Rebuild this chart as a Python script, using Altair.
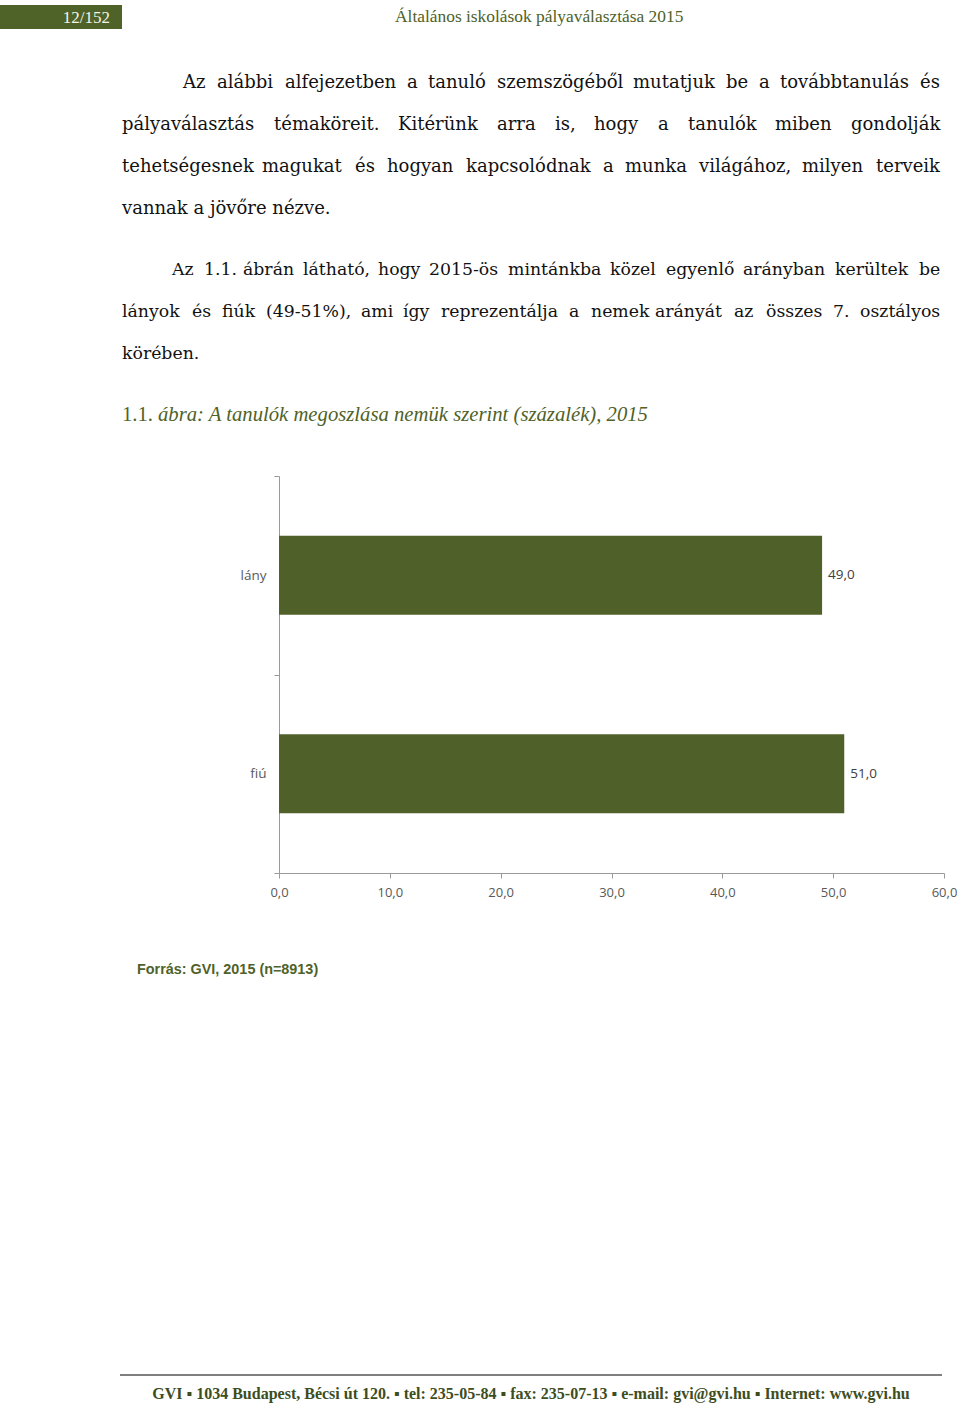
import altair as alt
import pandas as pd

W, H = 960, 1404

# ---- chart data ----
categories = ["lány", "fiú"]
values = [49.0, 51.0]
x_domain = [0, 60]
x_ticks = [0, 10, 20, 30, 40, 50, 60]

# ---- page texts ----
header_page = "12/152"
header_title = "Általános iskolások pályaválasztása 2015"
caption_num = "1.1."
caption_text = "ábra: A tanulók megoszlása nemük szerint (százalék), 2015"
source_text = "Forrás: GVI, 2015 (n=8913)"
footer_text = ("GVI \u25aa 1034 Budapest, Bécsi út 120. \u25aa tel: 235-05-84 \u25aa fax: 235-07-13 "
               "\u25aa e-mail: gvi@gvi.hu \u25aa Internet: www.gvi.hu")

line1_words = ["Az", "alábbi", "alfejezetben", "a", "tanuló", "szemszögéből", "mutatjuk", "be", "a", "továbbtanulás", "és"]
line1_x = [183, 217, 285, 407, 428, 497, 633, 726, 759, 780, 920]
line2_words = ["pályaválasztás", "témaköreit.", "Kitérünk", "arra", "is,", "hogy", "a", "tanulók", "miben", "gondolják"]
line2_x = [122, 274, 398, 497, 555, 594, 658, 688, 775, 851]
line3_words = ["tehetségesnek", "magukat", "és", "hogyan", "kapcsolódnak", "a", "munka", "világához,", "milyen", "terveik"]
line3_x = [122, 262, 355, 387, 466, 603, 625, 699, 802, 876]
line4_words = ["vannak a jövőre nézve."]
line4_x = [122]
line5_words = ["Az", "1.1.", "ábrán", "látható,", "hogy", "2015-ös", "mintánkba", "közel", "egyenlő", "arányban", "kerültek", "be"]
line5_x = [172, 204, 243, 303, 378, 429, 508, 610, 666, 743, 835, 919]
line6_words = ["lányok", "és", "fiúk", "(49-51%),", "ami", "így", "reprezentálja", "a", "nemek", "arányát", "az", "összes", "7.", "osztályos"]
line6_x = [122, 192, 222, 266, 361, 403, 441, 569, 591, 655, 734, 766, 833, 860]
line7_words = ["körében."]
line7_x = [122]

para1_lines = [
    (88, line1_words, line1_x),
    (130, line2_words, line2_x),
    (172, line3_words, line3_x),
    (214, line4_words, line4_x),
]
para2_lines = [
    (275, line5_words, line5_x),
    (317, line6_words, line6_x),
    (359, line7_words, line7_x),
]

OLIVE = "#4f6228"
BAR = "#4f6129"
AXIS_GRAY = "#9a9a9a"
LABEL_GRAY = "#595959"


def words_df(lines):
    rows = []
    for base, words, xs in lines:
        for w, x in zip(words, xs):
            rows.append({"t": w, "x": x, "y": base})
    return pd.DataFrame(rows)


def px(field):
    return alt.X(f"{field}:Q", scale=None, axis=None)


def py(field):
    return alt.Y(f"{field}:Q", scale=None, axis=None)


def text_layer(df, **mark):
    return alt.Chart(df).mark_text(**mark).encode(x=px("x"), y=py("y"), text="t:N")


# header
header_box = alt.Chart(pd.DataFrame({"x": [0], "x2": [122], "y": [5], "y2": [29]})).mark_rect(
    color=OLIVE).encode(x=px("x"), x2="x2:Q", y=py("y"), y2="y2:Q")
header_num = text_layer(pd.DataFrame({"t": [header_page], "x": [110], "y": [23]}),
                        align="right", baseline="alphabetic", font="Liberation Serif",
                        fontSize=17, color="#f4f4e8")
header_ttl = text_layer(pd.DataFrame({"t": [header_title], "x": [395], "y": [22]}),
                        align="left", baseline="alphabetic", font="Liberation Serif",
                        fontSize=17.4, color=OLIVE)

body1 = text_layer(words_df(para1_lines), align="left", baseline="alphabetic",
                   font="DejaVu Serif", fontSize=18, color="#111111")
body2 = text_layer(words_df(para2_lines), align="left", baseline="alphabetic",
                   font="DejaVu Serif", fontSize=17.3, color="#111111")

cap_num = text_layer(pd.DataFrame({"t": [caption_num], "x": [122], "y": [421]}),
                     align="left", baseline="alphabetic", font="Liberation Serif",
                     fontSize=20.7, color=OLIVE)
cap_txt = text_layer(pd.DataFrame({"t": [caption_text], "x": [158], "y": [421]}),
                     align="left", baseline="alphabetic", font="Liberation Serif",
                     fontSize=20.7, fontStyle="italic", color=OLIVE)

# chart
bar_df = pd.DataFrame({"cat": categories, "val": values})
x_scale = alt.Scale(domain=x_domain, range=[279, 944], nice=False, zero=True)
y_scale = alt.Scale(domain=categories, range=[476, 873], paddingInner=0, paddingOuter=0)

bars = alt.Chart(bar_df).mark_bar(color=BAR, size=79).encode(
    x=alt.X("val:Q", scale=x_scale, axis=alt.Axis(
        values=x_ticks, labelExpr="replace(format(datum.value, '.1f'), '.', ',')",
        offset=-531, grid=False, domainColor=AXIS_GRAY, tickColor=AXIS_GRAY, tickSize=5,
        labelFont="Open Sans", labelFontSize=13, labelColor=LABEL_GRAY, labelPadding=8,
        labelFlush=False, labelOverlap=False, title=None)),
    y=alt.Y("cat:N", sort=categories, scale=y_scale, axis=alt.Axis(
        offset=-279, tickBand="extent", grid=False, domainColor=AXIS_GRAY, tickColor=AXIS_GRAY,
        tickSize=5, labelFont="Open Sans", labelFontSize=13.5, labelColor=LABEL_GRAY,
        labelPadding=8, title=None)),
)

bar_labels = alt.Chart(bar_df).transform_calculate(
    lab="replace(format(datum.val, '.1f'), '.', ',')"
).mark_text(align="left", baseline="middle", dx=6, font="Open Sans", fontSize=13.5,
            color="#404040").encode(
    x=alt.X("val:Q", scale=x_scale, axis=None),
    y=alt.Y("cat:N", sort=categories, scale=y_scale, axis=None),
    text="lab:N",
)

source = text_layer(pd.DataFrame({"t": [source_text], "x": [137], "y": [974]}),
                    align="left", baseline="alphabetic", font="Liberation Sans",
                    fontSize=14.4, fontWeight="bold", color=OLIVE)

footer_line = alt.Chart(pd.DataFrame({"x": [120], "x2": [942], "y": [1375]})).mark_rule(
    color="#000000", strokeWidth=1).encode(x=px("x"), x2="x2:Q", y=py("y"))
footer = text_layer(pd.DataFrame({"t": [footer_text], "x": [531], "y": [1399]}),
                    align="center", baseline="alphabetic", font="Liberation Serif",
                    fontSize=16, fontWeight="bold", color="#3d4d1d")

chart = alt.layer(
    header_box, header_num, header_ttl, body1, body2, cap_num, cap_txt,
    bars, bar_labels, source, footer_line, footer
).resolve_scale(x="independent", y="independent").properties(
    width=W, height=H, padding=0, background="white",
    autosize=alt.AutoSizeParams(type="none"),
).configure_view(stroke=None)

chart.save("out.html", embed_options={"renderer": "svg", "actions": False})
